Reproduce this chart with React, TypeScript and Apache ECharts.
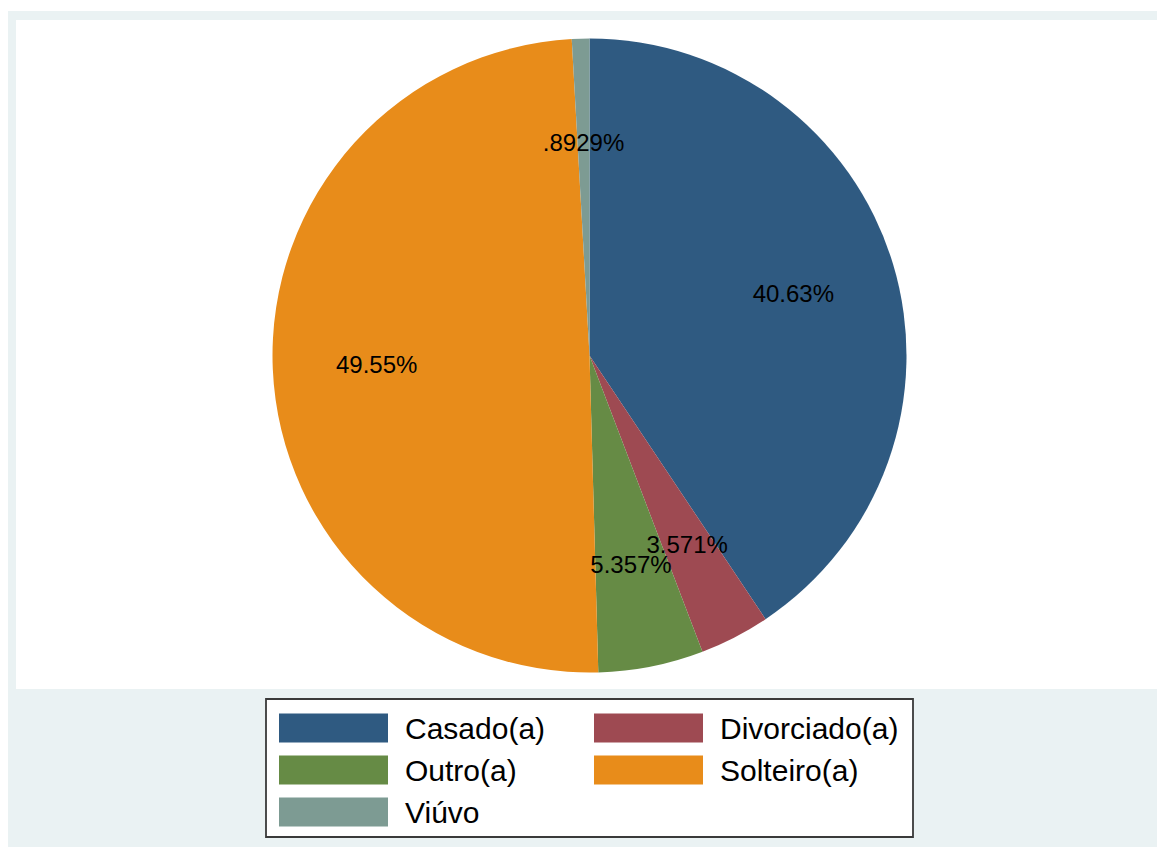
import React, { useEffect, useRef } from "react";
import * as echarts from "echarts";

const categories = ["Casado(a)", "Divorciado(a)", "Outro(a)", "Solteiro(a)", "Viúvo"];
const percents = [40.63, 3.571, 5.357, 49.55, 0.8929];
const colors = ["#2F5A81", "#9E4A52", "#668B45", "#E88C1A", "#7D9B93"];
const legendLeft = ["Casado(a)", "Outro(a)", "Viúvo"];
const legendRight = ["Divorciado(a)", "Solteiro(a)"];

const FONT = "'Liberation Sans', Arial, Helvetica, sans-serif";

function fmt(v: number): string {
  let s = String(v);
  if (s.startsWith("0.")) s = s.slice(1);
  return s + "%";
}

export default function App() {
  const ref = useRef<HTMLDivElement>(null);
  useEffect(() => {
    if (!ref.current) return;
    const chart = echarts.init(ref.current, undefined, { renderer: "svg" });
    const legendText = {
      fontSize: 30,
      color: "#000",
      fontFamily: FONT,
      lineHeight: 29,
      padding: [0, 0, 0, 12],
    };
    // one transparent label ring per category, so no label is hidden by overlap handling
    const labelSeries = categories.map((_, k) => ({
      type: "pie",
      center: [589.5, 355.5],
      radius: [200, 220],
      startAngle: 90,
      clockwise: true,
      silent: true,
      z: 5 + k,
      avoidLabelOverlap: false,
      minShowLabelAngle: 0,
      labelLayout: { hideOverlap: false },
      emphasis: { disabled: true },
      itemStyle: { color: "rgba(0,0,0,0)", borderWidth: 0 },
      labelLine: { show: false },
      label: { show: false },
      data: categories.map((c, i) => ({
        name: "lbl" + k + "_" + c,
        value: percents[i],
        label:
          i === k
            ? {
                show: true,
                position: "inside",
                fontSize: 24,
                color: "#000",
                fontFamily: FONT,
                formatter: (p: any) => fmt(p.value),
              }
            : { show: false },
      })),
    }));
    chart.setOption({
      animation: false,
      backgroundColor: "#ffffff",
      color: colors,
      graphic: [
        {
          type: "rect",
          z: 0,
          silent: true,
          shape: { x: 8, y: 11, width: 1149, height: 836 },
          style: { fill: "#EAF2F3" },
        },
        {
          type: "rect",
          z: 0,
          silent: true,
          shape: { x: 16, y: 20, width: 1141, height: 669 },
          style: { fill: "#FFFFFF" },
        },
        {
          type: "rect",
          z: 1,
          silent: true,
          shape: { x: 266, y: 699, width: 647, height: 138 },
          style: { fill: "#FFFFFF", stroke: "#3a3a3a", lineWidth: 1.8 },
        },
      ],
      legend: [
        {
          orient: "vertical",
          left: 279,
          top: 713,
          padding: 0,
          itemWidth: 109,
          itemHeight: 29,
          itemGap: 12,
          icon: "rect",
          selectedMode: false,
          data: legendLeft,
          textStyle: legendText,
        },
        {
          orient: "vertical",
          left: 594,
          top: 713,
          padding: 0,
          itemWidth: 109,
          itemHeight: 29,
          itemGap: 12,
          icon: "rect",
          selectedMode: false,
          data: legendRight,
          textStyle: legendText,
        },
      ],
      series: [
        {
          type: "pie",
          center: [589.5, 355.5],
          radius: [0, 317],
          startAngle: 90,
          clockwise: true,
          silent: true,
          label: { show: false },
          labelLine: { show: false },
          emphasis: { disabled: true },
          itemStyle: { borderWidth: 0 },
          data: categories.map((c, i) => ({ name: c, value: percents[i] })),
        },
        ...labelSeries,
      ],
    });
    return () => chart.dispose();
  }, []);
  return (
    <div
      ref={ref}
      style={{ position: "fixed", left: 0, top: 0, width: 1157, height: 847 }}
    />
  );
}
